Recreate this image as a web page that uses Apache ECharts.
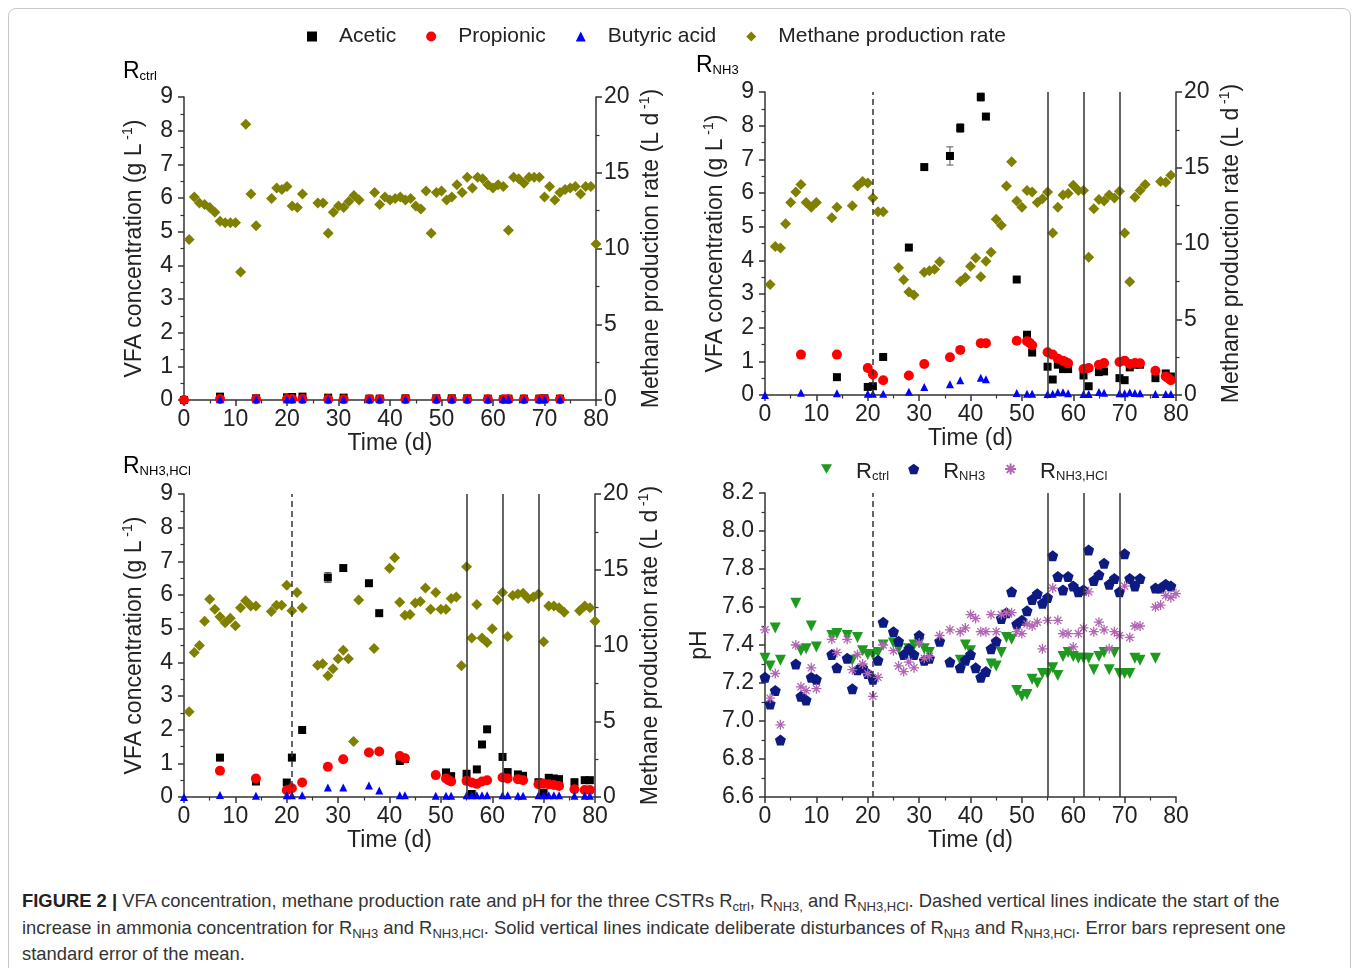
<!DOCTYPE html>
<html><head><meta charset="utf-8">
<script src="https://cdn.jsdelivr.net/npm/echarts@6/dist/echarts.min.js"></script>
<style>
html,body{margin:0;padding:0;background:#fff;width:1358px;height:968px;overflow:hidden;font-family:"Liberation Sans",Arial,sans-serif}
#frame{position:absolute;left:8px;top:8px;width:1341px;height:1000px;border:1px solid #c8c8c8;border-radius:8px}
#chart{position:absolute;left:0;top:0;width:1358px;height:870px}
#cap{position:absolute;left:22px;top:889px;font-size:18.4px;line-height:24.5px;color:#333;white-space:nowrap}
#cap b{color:#222}
#cap sub{font-size:13px;vertical-align:baseline;position:relative;top:4px}
</style></head><body>
<div id="frame"></div>
<div id="chart"></div>
<div id="cap"><b>FIGURE 2 |</b> VFA concentration, methane production rate and pH for the three CSTRs R<sub>ctrl</sub>, R<sub>NH3,</sub> and R<sub>NH3,HCl</sub>. Dashed vertical lines indicate the start of the<br>increase in ammonia concentration for R<sub>NH3</sub> and R<sub>NH3,HCl</sub>. Solid vertical lines indicate deliberate disturbances of R<sub>NH3</sub> and R<sub>NH3,HCl</sub>. Error bars represent one<br>standard error of the mean.</div>
<script>
// ---------- data ----------
const xTicks = [0, 80, 10];           // min, max, interval (days)
const dashedDay = 21;                 // start of ammonia increase
const disturbanceDays = [55, 62, 69]; // deliberate disturbances

// R_ctrl
const ctrlAcetic = [[0,0],[7,0.1],[14,0.05],[20,0.08],[21,0.09],[23,0.1],[28,0.07],[31,0.07],[36,0.04],[38,0.04],[43,0.05],[49,0.05],[52,0.05],[55,0.05],[59,0.04],[62,0.03],[63,0.04],[66,0.04],[69,0.04],[70,0.05],[73,0.04]];
const ctrlPropionic = [[0,0],[7,0.03],[14,0.02],[20,0.03],[21,0.03],[23,0.03],[28,0.02],[31,0.02],[36,0.02],[38,0.02],[43,0.02],[49,0.02],[52,0.02],[55,0.02],[59,0.02],[62,0.02],[63,0.02],[66,0.02],[69,0.02],[70,0.02],[73,0.02]];
const ctrlButyric = [[7,0.02],[14,0.02],[20,0.02],[21,0.02],[23,0.02],[28,0.02],[31,0.02],[36,0.02],[38,0.02],[43,0.02],[49,0.02],[52,0.02],[55,0.02],[59,0.02],[62,0.02],[63,0.02],[66,0.02],[69,0.02],[70,0.02],[73,0.02]];
const ctrlMethane = [[1,10.6],[2,13.4],[3,13.0],[4,12.9],[5,12.7],[6,12.4],[7,11.8],[8,11.7],[9,11.7],[10,11.7],[11,8.45],[12,18.2],[13,13.6],[14,11.5],[17,13.3],[18,14.0],[19,13.9],[20,14.1],[21,12.8],[22,12.7],[23,13.6],[26,13.0],[27,13.0],[28,11.0],[29,12.4],[30,12.8],[31,12.7],[32,13.1],[33,13.5],[34,13.2],[37,13.7],[38,12.9],[39,13.4],[40,13.2],[41,13.3],[42,13.4],[43,13.2],[44,13.3],[45,12.8],[46,12.6],[47,13.8],[48,11.0],[49,13.7],[50,13.8],[51,13.2],[52,13.4],[53,14.2],[54,13.7],[55,14.7],[56,14.0],[57,14.7],[58,14.6],[59,14.2],[60,14.0],[61,14.2],[62,14.1],[63,11.2],[64,14.7],[65,14.6],[66,14.3],[67,14.7],[68,14.7],[69,14.7],[70,13.4],[71,14.1],[72,13.2],[73,13.7],[74,13.9],[75,14.0],[76,14.1],[77,13.6],[78,14.1],[79,14.1],[80,10.3]];

// R_NH3
const nh3Acetic = [[14,0.53],[20,0.24],[21,0.26],[23,1.13],[28,4.38],[31,6.77],[36,7.10],[38,7.93],[42,8.85],[43,8.27],[49,3.43],[51,1.79],[52,1.26],[55,0.84],[56,0.46],[57,0.90],[58,0.77],[59,0.77],[62,0.58],[63,0.26],[65,0.68],[66,0.70],[69,0.50],[70,0.44],[71,0.82],[72,0.90],[73,0.90],[76,0.50],[78,0.64],[79,0.55]];
const nh3AceticErr = [[36,7.10,0.27],[38,7.93,0.13],[42,8.85,0.12],[43,8.27,0.06]];
const nh3Propionic = [[7,1.20],[14,1.20],[20,0.80],[21,0.61],[23,0.44],[28,0.58],[31,0.92],[36,1.12],[38,1.34],[42,1.54],[43,1.54],[49,1.61],[51,1.60],[51.5,1.55],[52,1.48],[55,1.27],[56,1.20],[57,1.08],[58,1.02],[58.5,0.98],[59,0.94],[62,0.77],[63,0.80],[65,0.90],[66,0.95],[69,0.98],[70,1.02],[71,0.92],[72,0.95],[73,0.94],[76,0.72],[78,0.55],[78.5,0.50],[79,0.44]];
const nh3Butyric = [[0,0],[7,0.07],[14,0.05],[20,0.04],[21,0.04],[23,0.04],[28,0.1],[31,0.24],[36,0.32],[38,0.44],[42,0.51],[43,0.47],[49,0.06],[51,0.04],[52,0.04],[55,0.03],[56,0.04],[57,0.08],[58,0.08],[59,0.05],[62,0.03],[63,0.03],[65,0.09],[66,0.07],[69,0.05],[70,0.05],[71,0.08],[72,0.06],[73,0.05],[76,0.03],[78,0.03],[79,0.03]];
const nh3Methane = [[1,7.3],[2,9.8],[3,9.7],[4,11.3],[5,12.7],[6,13.4],[7,13.9],[8,12.7],[9,12.4],[10,12.7],[13,11.7],[14,12.4],[17,12.5],[18,13.8],[19,14.1],[20,14.0],[21,13.0],[22,12.1],[23,12.1],[26,8.4],[27,7.6],[28,6.8],[29,6.6],[31,8.1],[32,8.2],[33,8.3],[34,8.8],[38,7.5],[39,7.75],[40,8.5],[41,9.05],[42,7.8],[43,8.83],[44,9.43],[45,11.6],[46,11.2],[47,13.8],[48,15.4],[49,12.8],[50,12.4],[51,13.5],[52,13.4],[53,12.7],[54,12.95],[55,13.4],[56,10.7],[57,12.4],[58,13.2],[59,13.3],[60,13.85],[61,13.5],[62,13.5],[63,9.1],[64,12.3],[65,12.9],[66,12.8],[67,13.2],[68,13.0],[69,13.45],[70,10.7],[71,7.47],[72,13.06],[73,13.5],[74,13.9],[77,14.1],[78,14.05],[79,14.5]];

// R_NH3,HCl
const hclAcetic = [[7,1.17],[14,0.46],[20,0.43],[21,1.17],[23,1.99],[28,6.52],[31,6.80],[36,6.35],[38,5.46],[42,1.07],[43,1.13],[51,0.73],[52,0.62],[55,0.69],[56,0.09],[57,0.82],[58,1.56],[59,2.01],[62,1.19],[63,0.74],[65,0.67],[66,0.63],[69,0.44],[70,0.13],[71,0.57],[72,0.55],[73,0.53],[76,0.44],[78,0.50],[79,0.50]];
const hclAceticErr = [[28,6.52,0.15]];
const hclPropionic = [[7,0.78],[14,0.55],[20,0.20],[21,0.26],[23,0.43],[28,0.90],[31,1.12],[36,1.32],[38,1.35],[42,1.22],[43,1.15],[49,0.65],[51,0.55],[51.5,0.50],[52,0.46],[55,0.48],[56,0.43],[57,0.39],[58,0.46],[59,0.50],[62,0.58],[63,0.55],[65,0.53],[66,0.50],[69,0.38],[70,0.40],[71,0.38],[72,0.36],[73,0.33],[76,0.23],[78,0.21],[79,0.21]];
const hclButyric = [[0,0],[7,0.06],[14,0.04],[20,0.05],[21,0.05],[23,0.05],[28,0.28],[31,0.28],[36,0.34],[38,0.19],[42,0.05],[43,0.05],[49,0.04],[51,0.04],[52,0.04],[55,0.05],[56,0.05],[57,0.05],[58,0.05],[59,0.05],[62,0.05],[63,0.05],[65,0.04],[66,0.04],[69,0.05],[70,0.05],[71,0.05],[72,0.05],[73,0.05],[76,0.04],[78,0.04],[79,0.04]];
const hclMethane = [[1,5.63],[2,9.53],[3,10.0],[4,11.6],[5,13.05],[6,12.4],[7,11.9],[8,11.5],[9,11.8],[10,11.3],[11,12.5],[12,12.95],[13,12.6],[14,12.6],[17,12.25],[18,12.65],[19,12.65],[20,13.97],[21,12.3],[22,13.5],[23,12.5],[26,8.7],[27,8.8],[28,8.0],[29,8.47],[30,9.13],[31,9.68],[32,9.13],[33,3.67],[34,13.0],[37,9.8],[40,15.1],[41,15.8],[42,12.85],[43,12.0],[44,12.05],[45,12.8],[46,12.9],[47,13.8],[48,12.4],[49,13.5],[50,12.4],[51,12.4],[52,13.1],[53,13.2],[54,8.67],[55,15.2],[56,10.5],[57,12.7],[58,10.5],[59,10.2],[60,11.1],[61,13.0],[62,13.5],[63,10.6],[64,13.3],[65,13.4],[66,13.45],[67,13.1],[68,13.2],[69,13.4],[70,10.25],[71,12.6],[72,12.6],[73,12.5],[74,12.2],[77,12.3],[78,12.6],[79,12.5],[80,11.6]];

// pH
const ctrlPH = [[0,7.33],[1,7.29],[2,7.49],[3,7.32],[6,7.62],[7,7.37],[8,7.38],[9,7.50],[10,7.39],[13,7.45],[14,7.46],[16,7.45],[17,7.32],[18,7.44],[19,7.37],[20,7.35],[21,7.35],[22,7.36],[23,7.40],[25,7.41],[26,7.38],[28,7.38],[29,7.40],[30,7.41],[31,7.38],[32,7.36],[38,7.32],[39,7.40],[40,7.37],[44,7.30],[45,7.29],[46,7.36],[47,7.44],[48,7.43],[49,7.16],[50,7.13],[51,7.14],[52,7.22],[53,7.20],[54,7.25],[55,7.25],[56,7.28],[57,7.24],[58,7.34],[59,7.36],[60,7.34],[61,7.33],[62,7.33],[63,7.33],[64,7.27],[65,7.34],[66,7.36],[67,7.27],[68,7.36],[69,7.25],[70,7.25],[71,7.25],[72,7.33],[73,7.32],[76,7.33]];
const nh3PH = [[0,7.23],[1,7.09],[2,7.16],[3,6.90],[6,7.30],[7,7.13],[8,7.11],[9,7.23],[10,7.22],[13,7.35],[14,7.28],[16,7.33],[17,7.17],[18,7.27],[19,7.28],[20,7.25],[21,7.22],[22,7.32],[23,7.52],[25,7.47],[26,7.42],[27,7.35],[28,7.38],[29,7.35],[30,7.45],[31,7.32],[32,7.33],[34,7.42],[36,7.31],[38,7.28],[39,7.32],[40,7.35],[41,7.28],[42,7.23],[43,7.26],[44,7.38],[45,7.42],[46,7.54],[47,7.57],[48,7.68],[49,7.51],[50,7.53],[51,7.58],[52,7.64],[53,7.67],[54,7.62],[55,7.65],[56,7.87],[57,7.76],[58,7.69],[59,7.76],[60,7.71],[61,7.68],[62,7.69],[63,7.90],[64,7.74],[65,7.77],[66,7.83],[67,7.72],[68,7.75],[69,7.68],[70,7.88],[71,7.75],[72,7.71],[73,7.75],[76,7.70],[77,7.70],[78,7.72],[79,7.71]];
const hclPH = [[0,7.48],[1,7.12],[2,7.25],[3,6.98],[6,7.40],[7,7.18],[8,7.16],[9,7.28],[10,7.17],[13,7.43],[14,7.36],[16,7.43],[17,7.27],[18,7.35],[19,7.30],[20,7.25],[21,7.13],[22,7.23],[23,7.40],[25,7.37],[26,7.29],[27,7.26],[28,7.31],[29,7.28],[30,7.41],[31,7.33],[32,7.34],[34,7.45],[36,7.48],[38,7.47],[39,7.49],[40,7.56],[41,7.54],[42,7.47],[43,7.47],[44,7.56],[45,7.47],[46,7.56],[47,7.57],[48,7.57],[49,7.47],[50,7.46],[51,7.51],[52,7.50],[53,7.52],[54,7.38],[55,7.53],[56,7.70],[57,7.53],[58,7.46],[59,7.46],[60,7.39],[61,7.46],[62,7.49],[63,7.68],[64,7.47],[65,7.52],[66,7.48],[67,7.38],[68,7.47],[69,7.45],[70,7.71],[71,7.44],[72,7.50],[73,7.50],[76,7.60],[77,7.61],[78,7.66],[79,7.65],[80,7.67]];

const vfaAxis = [0, 9, 1];
const methaneAxis = [0, 20, 5];
const phAxis = [6.6, 8.2, 0.2];
const legendMain = ['Acetic', 'Propionic', 'Butyric acid', 'Methane production rate'];
const legendPH = ['Rctrl', 'RNH3', 'RNH3,HCl'];

// ---------- styling ----------
const FONT = '"Liberation Sans", Arial, sans-serif';
const AX = '#333';
const C = {acetic:'#000000', prop:'#ff0000', but:'#0000ff', meth:'#808000', ctrl:'#1e9a1e', nh3:'#0c1a82', hcl:'#b265b4'};
const pentagon = 'path://M0,-1 L0.951,-0.309 L0.588,0.809 L-0.588,0.809 L-0.951,-0.309 Z';
const downTri = 'path://M-1,-0.6 L1,-0.6 L0,1.13 Z';
const asterisk = 'path://M0,-10 L0,10 M-10,0 L10,0 M-7.1,-7.1 L7.1,7.1 M-7.1,7.1 L7.1,-7.1';

const grids = [
  {left:184, top:97, width:412, height:303},
  {left:765, top:92, width:411, height:303},
  {left:184, top:494, width:411, height:303},
  {left:765, top:493, width:411, height:304}
];

function baseAxis(extra){
  return Object.assign({
    type:'value',
    axisLine:{show:true, onZero:false, lineStyle:{color:AX, width:1.5}},
    axisTick:{show:true, inside:false, length:6, lineStyle:{color:AX, width:1.5}},
    minorTick:{show:true, splitNumber:2, length:3.5, lineStyle:{color:AX, width:1.2}},
    splitLine:{show:false},
    axisLabel:{color:'#222', fontSize:23, fontFamily:FONT, margin:8},
    nameTextStyle:{color:'#222', fontSize:23, fontFamily:FONT}
  }, extra);
}
const supRich = {
  n:{fontSize:23, fontFamily:FONT, color:'#222', lineHeight:28},
  s:{fontSize:14, fontFamily:FONT, color:'#222', lineHeight:14, verticalAlign:'top'}
};
const xAxes = grids.map((g,i)=>baseAxis({gridIndex:i, min:xTicks[0], max:xTicks[1], interval:xTicks[2], name:'Time (d)', nameLocation:'middle', nameGap:31}));
const yAxes = [];
[0,1,2].forEach(i=>{
  yAxes.push(baseAxis({gridIndex:i, position:'left', min:vfaAxis[0], max:vfaAxis[1], interval:vfaAxis[2],
    axisLabel:{color:'#222', fontSize:23, fontFamily:FONT, margin:11},
    name:'{n|VFA concentration (g L}{s| -1}{n|)}', nameLocation:'middle', nameGap:35,
    nameTextStyle:{rich:supRich}}));
  yAxes.push(baseAxis({gridIndex:i, position:'right', min:methaneAxis[0], max:methaneAxis[1], interval:methaneAxis[2],
    name:'{n|Methane production rate (L d}{s| -1}{n|)}', nameLocation:'middle', nameGap:42,
    nameTextStyle:{rich:supRich}}));
});
yAxes.push(baseAxis({gridIndex:3, position:'left', min:phAxis[0], max:phAxis[1], interval:phAxis[2],
  axisLabel:{color:'#222', fontSize:23, fontFamily:FONT, margin:11, formatter:v=>v.toFixed(1)},
  name:'pH', nameLocation:'middle', nameGap:54}));

function vlines(dashed){
  const d = disturbanceDays.map(x=>({xAxis:x}));
  if (dashed) d.unshift({xAxis:dashedDay, lineStyle:{type:[6,4]}});
  return {silent:true, symbol:'none', label:{show:false}, animation:false,
    lineStyle:{color:AX, width:1.5, type:'solid'}, data:d};
}
function sc(name, g, y, data, sym, size, color, extra){
  return Object.assign({type:'scatter', name:name, xAxisIndex:g, yAxisIndex:y, data:data,
    symbol:sym, symbolSize:size, itemStyle:{color:color, opacity:1}, animation:false}, extra||{});
}
function errSeries(g, y, data){
  return {type:'custom', name:'err', xAxisIndex:g, yAxisIndex:y, data:data, silent:true, animation:false,
    encode:{x:0, y:1}, z:1,
    renderItem:function(params, api){
      const x = api.value(0), v = api.value(1), e = api.value(2);
      const t = api.coord([x, v+e]), b = api.coord([x, v-e]);
      const w = 3.5, st = {stroke:'#555', lineWidth:1};
      return {type:'group', children:[
        {type:'line', shape:{x1:t[0],y1:t[1],x2:b[0],y2:b[1]}, style:st},
        {type:'line', shape:{x1:t[0]-w,y1:t[1],x2:t[0]+w,y2:t[1]}, style:st},
        {type:'line', shape:{x1:b[0]-w,y1:b[1],x2:b[0]+w,y2:b[1]}, style:st}
      ]};
    }};
}
const panels = [
  [ctrlAcetic, ctrlPropionic, ctrlButyric, ctrlMethane, null, false],
  [nh3Acetic, nh3Propionic, nh3Butyric, nh3Methane, nh3AceticErr, true],
  [hclAcetic, hclPropionic, hclButyric, hclMethane, hclAceticErr, true]
];
const series = [];
panels.forEach((p,i)=>{
  if (p[4]) series.push(errSeries(i, 2*i, p[4]));
  series.push(sc('Acetic', i, 2*i, p[0], 'rect', 8, C.acetic, p[5] ? {markLine:vlines(true)} : {}));
  series.push(sc('Propionic', i, 2*i, p[1], 'circle', 10, C.prop));
  series.push(sc('Butyric acid', i, 2*i, p[2], 'triangle', 8, C.but));
  series.push(sc('Methane production rate', i, 2*i+1, p[3], 'diamond', 11, C.meth));
});
series.push(sc('Rctrl', 3, 6, ctrlPH, downTri, 11, C.ctrl, {markLine:vlines(true)}));
series.push(sc('RNH3', 3, 6, nh3PH, pentagon, 11, C.nh3));
series.push(sc('RNH3,HCl', 3, 6, hclPH, asterisk, 10, C.hcl, {itemStyle:{color:C.hcl, borderColor:C.hcl, borderWidth:1.3, opacity:1}}));

const subRich = {
  r:{fontSize:23, fontFamily:FONT, color:'#222', lineHeight:28, verticalAlign:'bottom'},
  b:{fontSize:13, fontFamily:FONT, color:'#222', lineHeight:20, verticalAlign:'bottom'}
};
const legRich = {
  r:{fontSize:22, fontFamily:FONT, color:'#222', lineHeight:28, verticalAlign:'bottom'},
  b:{fontSize:13, fontFamily:FONT, color:'#222', lineHeight:20, verticalAlign:'bottom'}
};
function titleText(x, y, sub){
  return {type:'text', left:x, top:y, silent:true,
    style:{text:'{r|R}{b|'+sub+'}', rich:subRich}};
}
const phNames = {'Rctrl':'ctrl', 'RNH3':'NH3', 'RNH3,HCl':'NH3,HCl'};

const option = {
  backgroundColor:'transparent',
  animation:false,
  grid:grids,
  xAxis:xAxes,
  yAxis:yAxes,
  legend:[
    {data:legendMain, left:302, top:21, itemWidth:10, itemHeight:10, itemGap:30,
      textStyle:{fontSize:21, fontFamily:FONT, color:'#222', padding:[0,0,0,17]}},
    {data:legendPH, left:816, top:456, itemWidth:11, itemHeight:11, itemGap:19,
      formatter:n=>'{r|R}{b|'+phNames[n]+'}',
      textStyle:{rich:legRich, padding:[0,0,0,19]}}
  ],
  graphic:[titleText(123, 60, 'ctrl'), titleText(696, 54, 'NH3'), titleText(123, 455, 'NH3,HCl')],
  series:series
};
const chart = echarts.init(document.getElementById('chart'), null, {renderer:'canvas'});
chart.setOption(option);
</script>
</body></html>
